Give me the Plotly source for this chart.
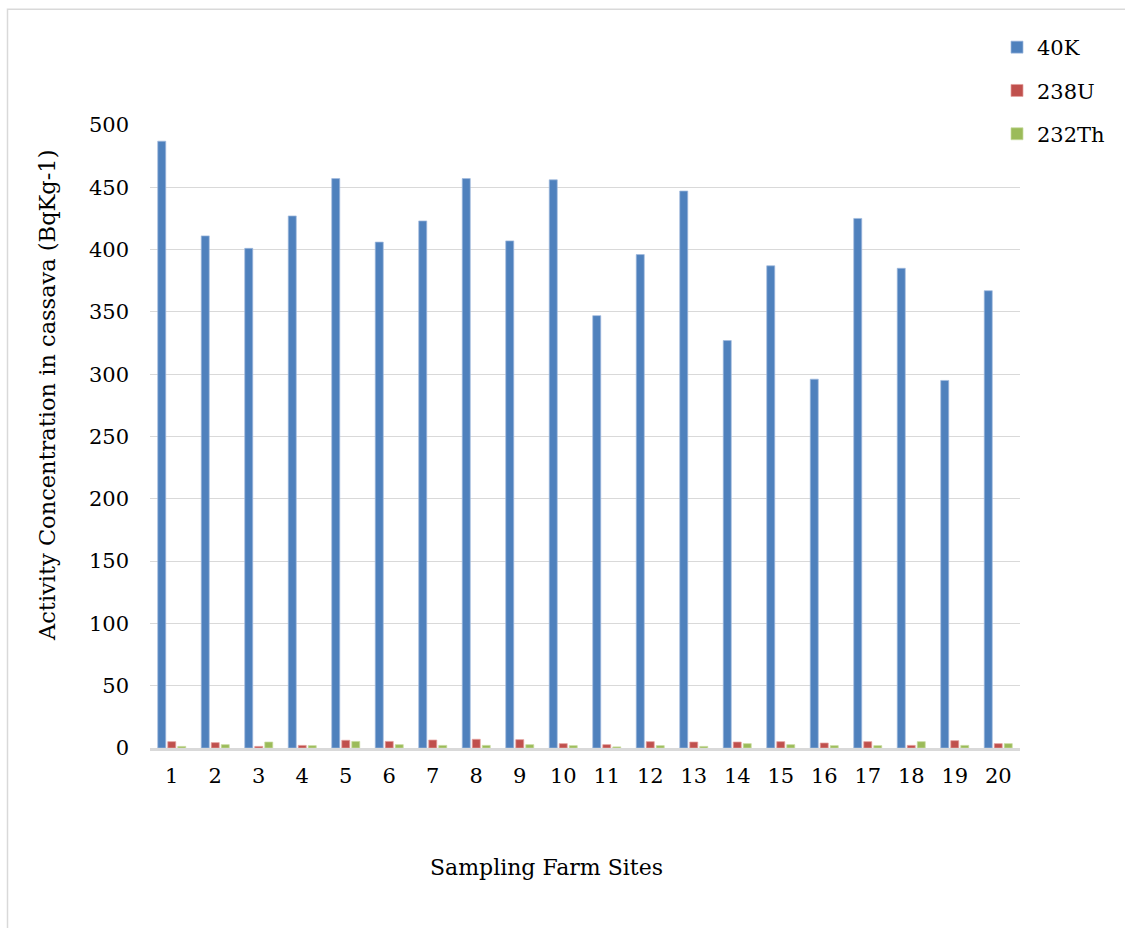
import plotly.graph_objects as go

# Sampling farm sites and activity concentrations (Bq/kg) in cassava
sites = [str(i) for i in range(1, 21)]
k40 = [487, 411, 401, 427, 457, 406, 423, 457, 407, 456,
       347, 396, 447, 327, 387, 296, 425, 385, 295, 367]
u238 = [5.1, 4.3, 1.3, 2.1, 6.2, 5.3, 6.4, 7.0, 6.7, 3.5,
        2.7, 5.1, 4.8, 4.8, 5.1, 4.0, 5.1, 2.1, 5.9, 3.5]
th232 = [1.3, 2.7, 4.8, 1.9, 5.3, 2.7, 2.1, 2.1, 2.7, 1.9,
         0.9, 1.9, 1.3, 3.5, 2.7, 1.9, 1.9, 5.1, 2.1, 3.5]
y_ticks = [0, 50, 100, 150, 200, 250, 300, 350, 400, 450, 500]

FONT = "DejaVu Serif"
W, H = 1125, 928
ML, MR, MT, MB = 150, 105, 125, 180
PW, PH = W - ML - MR, H - MT - MB


def px_x(p):
    return (p - ML) / PW


def px_y(p):
    return (H - MB - p) / PH


series = [
    ("40K", k40, "#4F81BD", "rgba(160,186,222,0.9)"),
    ("238U", u238, "#C0504D", "rgba(228,160,158,0.9)"),
    ("232Th", th232, "#9BBB59", "rgba(200,220,160,0.9)"),
]

fig = go.Figure()
for name, vals, color, edge in series:
    fig.add_trace(go.Bar(
        x=sites, y=vals, name=name, legendgroup=name,
        marker=dict(color=color, line=dict(color=edge, width=0.8)),
    ))

fig.update_layout(
    width=W, height=H,
    margin=dict(l=ML, r=MR, t=MT, b=MB),
    paper_bgcolor="white", plot_bgcolor="white",
    barmode="group", bargap=0.31, bargroupgap=0.2,
    font=dict(family=FONT, size=21, color="black"),
    showlegend=True,
    legend=dict(
        x=px_x(997), y=px_y(27), xanchor="left", yanchor="top",
        font=dict(family=FONT, size=21, color="black"),
        tracegroupgap=13, bgcolor="rgba(0,0,0,0)",
    ),
    xaxis=dict(
        type="category", showgrid=False, zeroline=False,
        showline=True, linecolor="#D9D9D9", linewidth=2.5,
        ticks="", ticklabelstandoff=7,
        tickfont=dict(family=FONT, size=21, color="black"),
    ),
    yaxis=dict(
        range=[0, 500], tickvals=y_ticks, showgrid=True,
        gridcolor="#D9D9D9", gridwidth=1, zeroline=False,
        showline=False, ticks="", ticklabelstandoff=20,
        tickfont=dict(family=FONT, size=21, color="black"),
    ),
    annotations=[
        dict(text="Activity Concentration in cassava (BqKg-1)",
             xref="paper", yref="paper", x=px_x(47), y=px_y(396),
             xanchor="center", yanchor="middle", textangle=-90,
             showarrow=False, font=dict(family=FONT, size=22.5, color="black")),
        dict(text="Sampling Farm Sites",
             xref="paper", yref="paper", x=px_x(546), y=px_y(867),
             xanchor="center", yanchor="middle",
             showarrow=False, font=dict(family=FONT, size=22, color="black")),
    ],
    shapes=[
        # chart frame (left and top edges visible)
        dict(type="rect", xref="paper", yref="paper",
             x0=px_x(7.5), y0=px_y(1000), x1=px_x(1200), y1=px_y(9.2),
             line=dict(color="#D9D9D9", width=1.5), layer="below"),
    ],
)

fig.write_html("out.html")
